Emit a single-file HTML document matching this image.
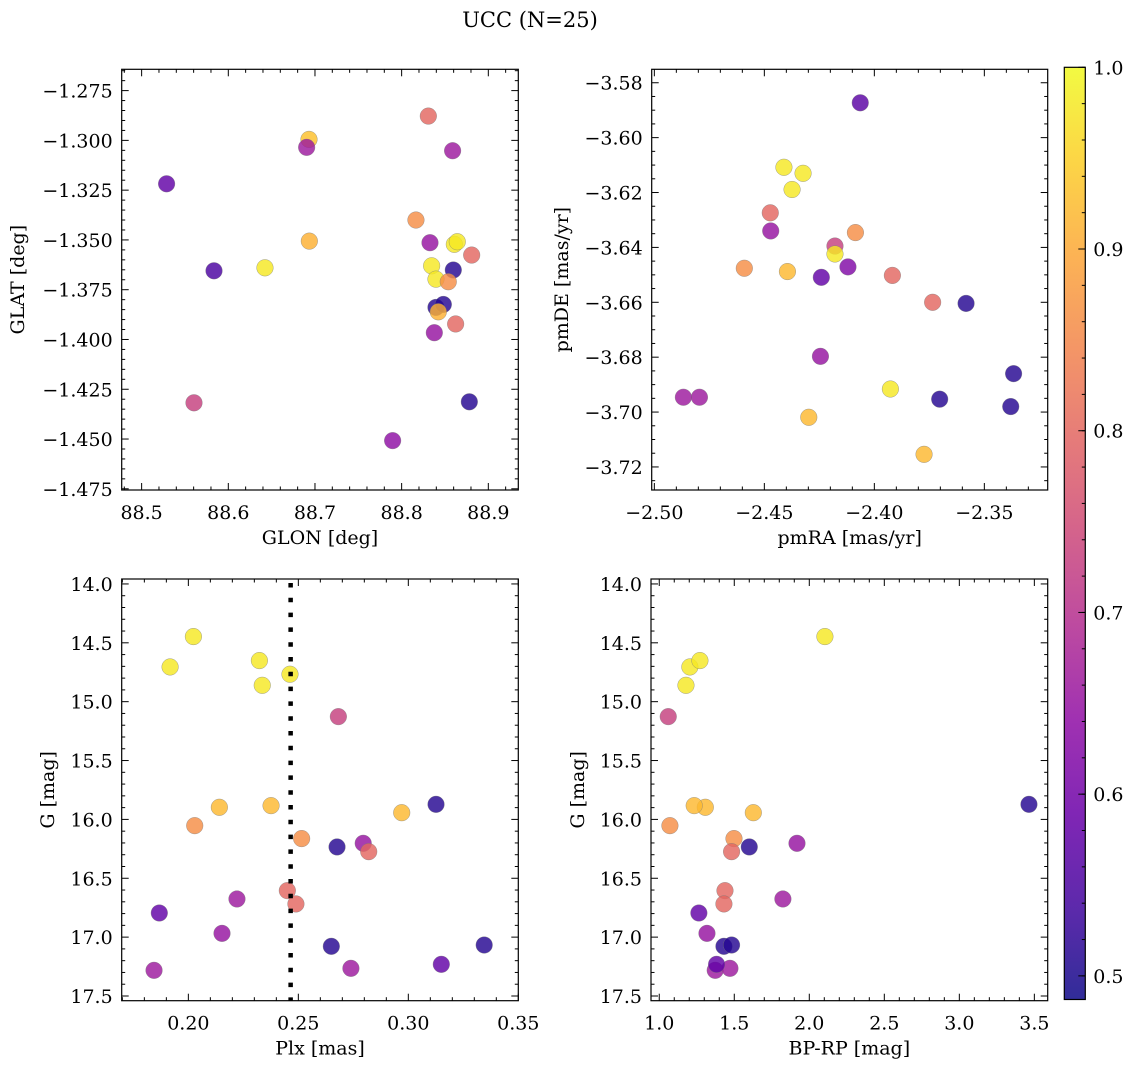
<!DOCTYPE html>
<html><head><meta charset="utf-8"><style>
html,body{margin:0;padding:0;background:#fff;}
svg{display:block;font-family:"DejaVu Serif","Liberation Serif",serif;}
</style></head><body>
<svg id="fig" width="1136" height="1067" viewBox="0 0 1136 1067" xmlns="http://www.w3.org/2000/svg">
<defs><linearGradient id="cbgrad" x1="0" y1="1" x2="0" y2="0"></linearGradient></defs>
<text x="530" y="27" font-size="21" text-anchor="middle">UCC (N=25)</text>
</svg>
<script>
// Panel 1: GLON vs GLAT
const glon = [88.8308,88.6931,88.6904,88.8588,88.5288,88.8165,88.6935,88.8327,88.8608,88.8642,88.8808,88.5835,88.6423,88.8346,88.8596,88.8396,88.8538,88.8396,88.8481,88.8423,88.8623,88.8377,88.5604,88.8781,88.7896];
const glat = [-1.2878,-1.2995,-1.3035,-1.3052,-1.3218,-1.3400,-1.3506,-1.3514,-1.3522,-1.3509,-1.3576,-1.3655,-1.3640,-1.3630,-1.3651,-1.3697,-1.3710,-1.3839,-1.3824,-1.3861,-1.3922,-1.3966,-1.4318,-1.4313,-1.4508];
const probA = [0.80,0.93,0.66,0.66,0.58,0.86,0.91,0.65,0.98,0.98,0.80,0.55,0.98,0.98,0.51,0.98,0.86,0.51,0.51,0.91,0.80,0.65,0.73,0.51,0.64];
// Panel 2: pmRA vs pmDE
const pmra = [-2.4064,-2.4411,-2.4324,-2.4374,-2.4473,-2.4471,-2.4086,-2.4179,-2.4179,-2.4591,-2.4395,-2.4241,-2.4120,-2.3918,-2.3735,-2.3583,-2.4245,-2.3367,-2.3927,-2.3703,-2.3380,-2.4868,-2.4795,-2.4298,-2.3774];
const pmde = [-3.5873,-3.6108,-3.6130,-3.6189,-3.6274,-3.6340,-3.6346,-3.6395,-3.6424,-3.6476,-3.6488,-3.6509,-3.6471,-3.6502,-3.6600,-3.6604,-3.6797,-3.6860,-3.6916,-3.6953,-3.6980,-3.6946,-3.6946,-3.7019,-3.7154];
const probB = [0.57,0.98,0.98,0.98,0.80,0.65,0.86,0.73,0.98,0.86,0.92,0.58,0.62,0.80,0.80,0.51,0.65,0.51,0.98,0.51,0.51,0.66,0.66,0.92,0.92];
// Panel 3 & 4: Plx, BP-RP vs G
const plx = [0.2023,0.1917,0.2323,0.2462,0.2336,0.2682,0.2141,0.2376,0.2970,0.3126,0.2029,0.2515,0.2676,0.2795,0.2820,0.2450,0.2489,0.2221,0.1868,0.2153,0.2650,0.3345,0.1844,0.2739,0.3150];
const gmag = [14.447,14.705,14.651,14.767,14.861,15.127,15.897,15.883,15.943,15.872,16.053,16.163,16.234,16.203,16.274,16.605,16.718,16.676,16.795,16.968,17.078,17.067,17.282,17.265,17.231];
const bprp = [2.104,1.204,1.271,null,1.178,1.060,1.307,1.233,1.627,3.464,1.071,1.498,1.600,1.918,1.482,1.438,1.431,1.824,1.264,1.318,1.431,1.482,1.373,1.471,1.382];
const probC = [0.98,0.98,0.98,0.98,0.98,0.73,0.92,0.92,0.92,0.51,0.86,0.86,0.51,0.65,0.80,0.80,0.80,0.66,0.58,0.65,0.51,0.51,0.66,0.66,0.58];
const plxLine = [0.2465];
const cbTicks = [0.5,0.6,0.7,0.8,0.9,1.0];
const vmin = 0.487, vmax = 1.0;

const NS = "http://www.w3.org/2000/svg";
const svg = document.getElementById('fig');
const FS = 19;
const plasma = [[13,8,135],[65,4,157],[106,0,168],[143,13,164],[177,42,144],[204,71,120],[225,100,98],[242,132,75],[252,166,54],[252,206,37],[240,249,33]];
function cmap(t){t=Math.max(0,Math.min(1,t));const f=t*10,i=Math.min(9,Math.floor(f)),r=f-i;const a=plasma[i],b=plasma[i+1];return 'rgb('+a.map((v,k)=>Math.round(v+(b[k]-v)*r)).join(',')+')';}
function el(tag,attrs,parent){const e=document.createElementNS(NS,tag);for(const k in attrs)e.setAttribute(k,attrs[k]);(parent||svg).appendChild(e);return e;}
function dec(v,d){return v.toFixed(d).replace('-','\u2212');}

function panel(cfg){
  const g=el('g',{});
  
  
  const L=cfg.box[0],T=cfg.box[1],R=cfg.box[2],B=cfg.box[3];
  const sx=v=>L+(v-cfg.xr[0])/(cfg.xr[1]-cfg.xr[0])*(R-L);
  const sy=v=>B-(v-cfg.yr[0])/(cfg.yr[1]-cfg.yr[0])*(B-T);
  const pg=el('g',{},g);
  
  
  for(let i=0;i<cfg.xs.length;i++){
    if(cfg.xs[i]==null||cfg.ys[i]==null)continue;
    const c=el('circle',{cx:sx(cfg.xs[i]),cy:sy(cfg.ys[i]),r:8.3,fill:cmap((cfg.p[i]-vmin)/(vmax-vmin)),'fill-opacity':0.82,stroke:'#777','stroke-width':0.5,'stroke-opacity':0.7},pg);
    
    
  }
  if(cfg.vline){
    const ln=el('line',{x1:sx(cfg.vline[0]),x2:sx(cfg.vline[0]),y1:T+4,y2:B,stroke:'#000','stroke-width':4.5,'stroke-dasharray':'4.5 10.3'},g);
    
    
  }
  const fr=el('rect',{x:L,y:T,width:R-L,height:B-T,fill:'none',stroke:'#000','stroke-width':1.2},g);
  
  
  const eps=1e-9;
  const xlo=Math.min(cfg.xr[0],cfg.xr[1]),xhi=Math.max(cfg.xr[0],cfg.xr[1]);
  for(let k=Math.ceil(xlo/cfg.xmin-eps);k*cfg.xmin<=xhi+eps;k++){
    const v=k*cfg.xmin,x=sx(v);
    const major=Math.abs(v/cfg.xmaj-Math.round(v/cfg.xmaj))<1e-6;
    const len=major?7:3.5;
    el('line',{x1:x,x2:x,y1:B,y2:B-len,stroke:'#000','stroke-width':1},g);
    el('line',{x1:x,x2:x,y1:T,y2:T+len,stroke:'#000','stroke-width':1},g);
    if(major){const t=el('text',{x:x,y:B+29,'font-size':FS,'text-anchor':'middle'},g);t.textContent=dec(v,cfg.xd);
      
      }
  }
  const ylo=Math.min(cfg.yr[0],cfg.yr[1]),yhi=Math.max(cfg.yr[0],cfg.yr[1]);
  for(let k=Math.ceil(ylo/cfg.ymin-eps);k*cfg.ymin<=yhi+eps;k++){
    const v=k*cfg.ymin,y=sy(v);
    const major=Math.abs(v/cfg.ymaj-Math.round(v/cfg.ymaj))<1e-6;
    const len=major?7:3.5;
    el('line',{x1:L,x2:L+len,y1:y,y2:y,stroke:'#000','stroke-width':1},g);
    el('line',{x1:R,x2:R-len,y1:y,y2:y,stroke:'#000','stroke-width':1},g);
    if(major){const t=el('text',{x:L-9,y:y+7,'font-size':FS,'text-anchor':'end'},g);t.textContent=dec(v,cfg.yd);
      
      }
  }
  const xl=el('text',{x:(L+R)/2,y:B+54,'font-size':FS,'text-anchor':'middle'},g);xl.textContent=cfg.xlab;
  
  
  const yl=el('text',{x:0,y:0,'font-size':FS,'text-anchor':'middle',transform:'translate('+cfg.ylx+','+((T+B)/2)+') rotate(-90)'},g);yl.textContent=cfg.ylab;
  
  
}
panel({name:'glon-glat-panel',box:[121.7,69.3,518.3,490],xr:[88.477,88.9346],yr:[-1.4756,-1.2643],xs:glon,ys:glat,p:probA,xmaj:0.1,xmin:0.02,xd:1,ymaj:0.025,ymin:0.005,yd:3,xlab:'GLON [deg]',ylab:'GLAT [deg]',ylx:24});
panel({name:'pm-panel',box:[651.7,69.3,1047.7,490],xr:[-2.5012,-2.3212],yr:[-3.7284,-3.5751],xs:pmra,ys:pmde,p:probB,xmaj:0.05,xmin:0.01,xd:2,ymaj:0.02,ymin:0.005,yd:2,xlab:'pmRA [mas/yr]',ylab:'pmDE [mas/yr]',ylx:568});
panel({name:'plx-g-panel',box:[121.7,579,518.3,1000.7],xr:[0.1697,0.35],yr:[17.54,13.958],xs:plx,ys:gmag,p:probC,xmaj:0.05,xmin:0.01,xd:2,ymaj:0.5,ymin:0.1,yd:1,xlab:'Plx [mas]',ylab:'G [mag]',ylx:54,vline:plxLine});
panel({name:'bprp-g-panel',box:[651,579,1047.7,1000.7],xr:[0.945,3.589],yr:[17.54,13.958],xs:bprp,ys:gmag,p:probC,xmaj:0.5,xmin:0.1,xd:1,ymaj:0.5,ymin:0.1,yd:1,xlab:'BP-RP [mag]',ylab:'G [mag]',ylx:584});

const grad=document.getElementById('cbgrad');
for(let i=0;i<=20;i++){el('stop',{offset:i/20,'stop-color':cmap(i/20)},grad);}
const cbL=1064.3,cbR=1085.3,cbT=67.3,cbB=999.5;
const cy=v=>cbB-(v-vmin)/(vmax-vmin)*(cbB-cbT);
const cb=el('g',{});


el('rect',{x:cbL,y:cbT,width:cbR-cbL,height:cbB-cbT,fill:'url(#cbgrad)','fill-opacity':0.85,stroke:'#000','stroke-width':1.2},cb);
for(let k=25;k<=50;k++){const v=k*0.02;if(v<vmin||v>vmax+1e-9)continue;const y=cy(v);el('line',{x1:cbR,x2:cbR-3.5,y1:y,y2:y,stroke:'#000','stroke-width':1},cb);}
cbTicks.forEach(v=>{const y=cy(v);el('line',{x1:cbR,x2:cbR-7,y1:y,y2:y,stroke:'#000','stroke-width':1},cb);
  const t=el('text',{x:cbR+8,y:y+7,'font-size':FS},cb);t.textContent=v.toFixed(1);
  
  });
</script>
</body></html>
